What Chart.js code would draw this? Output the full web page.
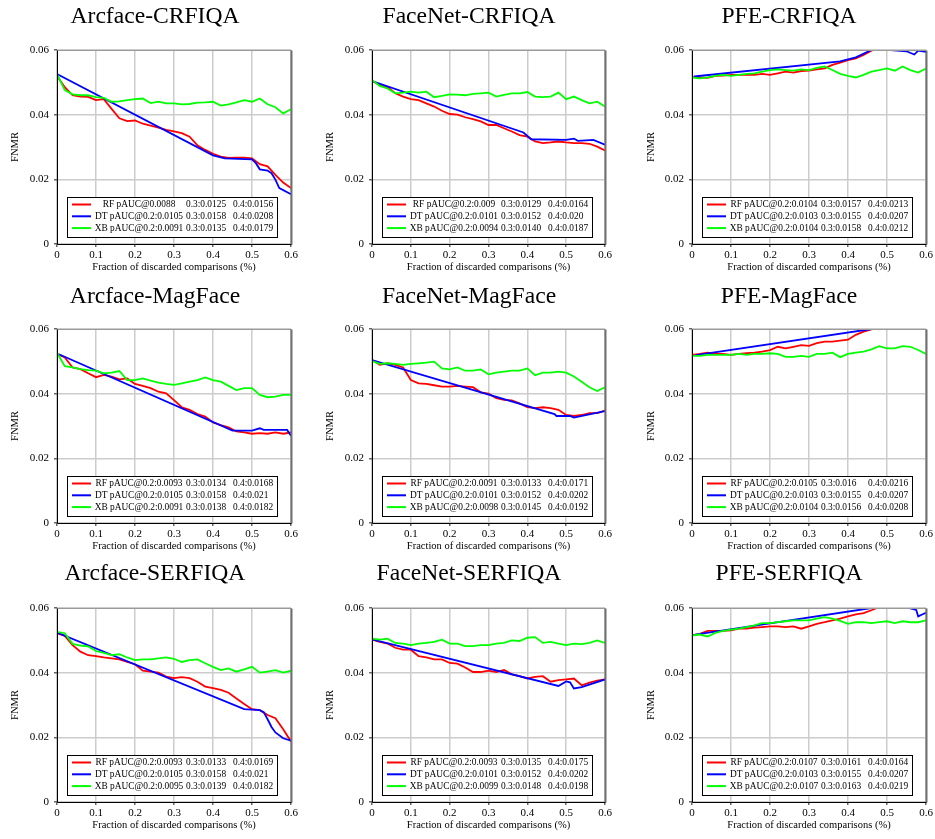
<!DOCTYPE html>
<html>
<head>
<meta charset="utf-8">
<script src="https://cdn.jsdelivr.net/npm/chart.js@4.4.1/dist/chart.umd.min.js"></script>
<style>
  body { margin: 0; background: #fff; width: 935px; height: 839px; position: relative; overflow: hidden; }
  canvas { position: absolute; }
</style>
</head>
<body>
<script>
// sample positions (fraction of discarded comparisons) used for RF / XB curves
const XS = [0, 0.02, 0.04, 0.06, 0.08, 0.1, 0.12, 0.14, 0.16, 0.18, 0.2, 0.22, 0.24, 0.26, 0.28, 0.3,
            0.32, 0.34, 0.36, 0.38, 0.4, 0.42, 0.44, 0.46, 0.48, 0.5, 0.52, 0.54, 0.56, 0.58, 0.6];
const X_TICKS = [0, 0.1, 0.2, 0.3, 0.4, 0.5, 0.6];
const Y_TICKS = [0, 0.02, 0.04, 0.06];
const TITLES = ['Arcface-CRFIQA', 'FaceNet-CRFIQA', 'PFE-CRFIQA',
                'Arcface-MagFace', 'FaceNet-MagFace', 'PFE-MagFace',
                'Arcface-SERFIQA', 'FaceNet-SERFIQA', 'PFE-SERFIQA'];
const SERIES = ['RF', 'DT', 'XB'];

// Arcface-CRFIQA
const p1RF = [0.0520, 0.0485, 0.0460, 0.0456, 0.0455, 0.0445, 0.0448, 0.0418, 0.0389, 0.0380, 0.0382, 0.0372, 0.0366, 0.0360, 0.0353, 0.0348,
              0.0343, 0.0332, 0.0305, 0.0291, 0.0279, 0.0270, 0.0266, 0.0267, 0.0267, 0.0265, 0.0247, 0.0240, 0.0214, 0.0190, 0.0173];
const p1XB = [0.0525, 0.0476, 0.0463, 0.0460, 0.0460, 0.0454, 0.0452, 0.0440, 0.0441, 0.0445, 0.0448, 0.0450, 0.0436, 0.0440, 0.0435, 0.0435,
              0.0432, 0.0433, 0.0437, 0.0438, 0.0440, 0.0428, 0.0432, 0.0438, 0.0445, 0.0440, 0.0450, 0.0432, 0.0423, 0.0404, 0.0417];
const p1DTx = [0, 0.4, 0.43, 0.5, 0.51, 0.52, 0.54, 0.55, 0.56, 0.57, 0.6];
const p1DTy = [0.0526, 0.0274, 0.0265, 0.0262, 0.0250, 0.0231, 0.0227, 0.0219, 0.0199, 0.0173, 0.0154];
const p1LEG = [['RF pAUC@0.0088', '0.3:0.0125', '0.4:0.0156'], ['DT pAUC@0.2:0.0105', '0.3:0.0158', '0.4:0.0208'], ['XB pAUC@0.2:0.0091', '0.3:0.0135', '0.4:0.0179']];

// FaceNet-CRFIQA
const p2RF = [0.0504, 0.0492, 0.0485, 0.0466, 0.0456, 0.0448, 0.0445, 0.0435, 0.0425, 0.0412, 0.0402, 0.0400, 0.0392, 0.0386, 0.0379, 0.0368,
              0.0368, 0.0358, 0.0348, 0.0337, 0.0332, 0.0317, 0.0312, 0.0314, 0.0317, 0.0314, 0.0312, 0.0312, 0.0310, 0.0301, 0.0289];
const p2XB = [0.0507, 0.0489, 0.0481, 0.0466, 0.0468, 0.0471, 0.0468, 0.0471, 0.0454, 0.0458, 0.0463, 0.0462, 0.0460, 0.0464, 0.0466, 0.0468,
              0.0456, 0.0461, 0.0466, 0.0466, 0.0470, 0.0456, 0.0454, 0.0456, 0.0468, 0.0448, 0.0456, 0.0445, 0.0435, 0.0440, 0.0425];
const p2DTx = [0, 0.39, 0.41, 0.5, 0.52, 0.53, 0.57, 0.6];
const p2DTy = [0.0504, 0.0345, 0.0324, 0.0322, 0.0326, 0.0319, 0.0322, 0.0307];
const p2LEG = [['RF pAUC@0.2:0.009', '0.3:0.0129', '0.4:0.0164'], ['DT pAUC@0.2:0.0101', '0.3:0.0152', '0.4:0.020'], ['XB pAUC@0.2:0.0094', '0.3:0.0140', '0.4:0.0187']];

// PFE-CRFIQA
const p3RF = [0.0517, 0.0515, 0.0514, 0.0520, 0.0521, 0.0523, 0.0523, 0.0523, 0.0523, 0.0526, 0.0523, 0.0528, 0.0533, 0.0530, 0.0535, 0.0536,
              0.0540, 0.0543, 0.0554, 0.0561, 0.0569, 0.0574, 0.0585, 0.0598, 0.0606, null, null, null, null, null, null];
const p3XB = [0.0515, 0.0512, 0.0515, 0.0520, 0.0523, 0.0520, 0.0523, 0.0526, 0.0528, 0.0533, 0.0538, 0.0540, 0.0538, 0.0536, 0.0540, 0.0538,
              0.0545, 0.0549, 0.0538, 0.0526, 0.0520, 0.0515, 0.0523, 0.0533, 0.0538, 0.0543, 0.0536, 0.0549, 0.0538, 0.0530, 0.0543];
const p3DTx = [0.005, 0.38, 0.42, 0.46, 0.48, 0.5, 0.51, 0.55, 0.57, 0.58, 0.6];
const p3DTy = [0.0518, 0.0565, 0.0577, 0.0600, 0.0605, 0.0604, 0.0600, 0.0596, 0.0586, 0.0598, 0.0594];
const p3LEG = [['RF pAUC@0.2:0.0104', '0.3:0.0157', '0.4:0.0213'], ['DT pAUC@0.2:0.0103', '0.3:0.0155', '0.4:0.0207'], ['XB pAUC@0.2:0.0104', '0.3:0.0158', '0.4:0.0212']];

// Arcface-MagFace
const p4RF = [0.0523, 0.0512, 0.0481, 0.0476, 0.0463, 0.0451, 0.0458, 0.0453, 0.0444, 0.0447, 0.0430, 0.0424, 0.0417, 0.0406, 0.0401, 0.0380,
              0.0358, 0.0350, 0.0337, 0.0329, 0.0311, 0.0303, 0.0296, 0.0283, 0.0280, 0.0276, 0.0278, 0.0276, 0.0280, 0.0276, 0.0280];
const p4XB = [0.0527, 0.0485, 0.0481, 0.0476, 0.0473, 0.0471, 0.0463, 0.0465, 0.0470, 0.0442, 0.0442, 0.0447, 0.0440, 0.0434, 0.0430, 0.0427,
              0.0432, 0.0437, 0.0442, 0.0450, 0.0442, 0.0437, 0.0424, 0.0411, 0.0417, 0.0417, 0.0396, 0.0389, 0.0391, 0.0396, 0.0396];
const p4DTx = [0.005, 0.45, 0.5, 0.52, 0.53, 0.59, 0.6];
const p4DTy = [0.0522, 0.0286, 0.0286, 0.0293, 0.0288, 0.0288, 0.0270];
const p4LEG = [['RF pAUC@0.2:0.0093', '0.3:0.0134', '0.4:0.0168'], ['DT pAUC@0.2:0.0105', '0.3:0.0158', '0.4:0.021'], ['XB pAUC@0.2:0.0091', '0.3:0.0138', '0.4:0.0182']];

// FaceNet-MagFace
const p5RF = [0.0504, 0.0489, 0.0494, 0.0489, 0.0481, 0.0442, 0.0432, 0.0430, 0.0426, 0.0422, 0.0422, 0.0424, 0.0422, 0.0420, 0.0404, 0.0400,
              0.0386, 0.0381, 0.0379, 0.0370, 0.0358, 0.0355, 0.0358, 0.0355, 0.0350, 0.0334, 0.0331, 0.0334, 0.0340, 0.0340, 0.0348];
const p5XB = [0.0501, 0.0492, 0.0494, 0.0492, 0.0489, 0.0492, 0.0494, 0.0496, 0.0499, 0.0478, 0.0475, 0.0481, 0.0471, 0.0471, 0.0475, 0.0460,
              0.0465, 0.0468, 0.0471, 0.0471, 0.0478, 0.0457, 0.0465, 0.0465, 0.0468, 0.0465, 0.0453, 0.0437, 0.0420, 0.0408, 0.0420];
const p5DTx = [0, 0.47, 0.475, 0.51, 0.52, 0.6];
const p5DTy = [0.0504, 0.0337, 0.0331, 0.0331, 0.0326, 0.0346];
const p5LEG = [['RF pAUC@0.2:0.0091', '0.3:0.0133', '0.4:0.0171'], ['DT pAUC@0.2:0.0101', '0.3:0.0152', '0.4:0.0202'], ['XB pAUC@0.2:0.0098', '0.3:0.0145', '0.4:0.0192']];

// PFE-MagFace
const p6RF = [0.0520, 0.0523, 0.0527, 0.0523, 0.0523, 0.0520, 0.0523, 0.0525, 0.0527, 0.0530, 0.0535, 0.0545, 0.0540, 0.0545, 0.0550, 0.0548,
              0.0556, 0.0561, 0.0561, 0.0564, 0.0567, 0.0582, 0.0592, 0.0599, 0.0606, null, null, null, null, null, null];
const p6XB = [0.0517, 0.0517, 0.0520, 0.0520, 0.0520, 0.0520, 0.0523, 0.0520, 0.0523, 0.0523, 0.0525, 0.0523, 0.0514, 0.0514, 0.0517, 0.0514,
              0.0523, 0.0523, 0.0527, 0.0513, 0.0523, 0.0527, 0.0530, 0.0537, 0.0547, 0.0540, 0.0540, 0.0547, 0.0545, 0.0535, 0.0523];
const p6DTx = [0.01, 0.46, 0.47];
const p6DTy = [0.0519, 0.0600, 0.0602];
const p6LEG = [['RF pAUC@0.2:0.0105', '0.3:0.016', '0.4:0.0216'], ['DT pAUC@0.2:0.0103', '0.3:0.0155', '0.4:0.0207'], ['XB pAUC@0.2:0.0104', '0.3:0.0156', '0.4:0.0208']];

// Arcface-SERFIQA
const p7RF = [0.0522, 0.0514, 0.0485, 0.0465, 0.0454, 0.0451, 0.0447, 0.0444, 0.0441, 0.0433, 0.0426, 0.0406, 0.0403, 0.0400, 0.0388, 0.0383,
              0.0386, 0.0383, 0.0372, 0.0357, 0.0352, 0.0347, 0.0338, 0.0320, 0.0303, 0.0287, 0.0284, 0.0269, 0.0259, 0.0225, 0.0187];
const p7XB = [0.0526, 0.0522, 0.0489, 0.0484, 0.0481, 0.0467, 0.0461, 0.0454, 0.0457, 0.0447, 0.0439, 0.0441, 0.0441, 0.0444, 0.0447, 0.0443,
              0.0433, 0.0439, 0.0441, 0.0429, 0.0418, 0.0408, 0.0413, 0.0403, 0.0410, 0.0418, 0.0400, 0.0403, 0.0408, 0.0400, 0.0406];
const p7DTx = [0, 0.48, 0.52, 0.53, 0.54, 0.55, 0.56, 0.58, 0.6];
const p7DTy = [0.0524, 0.0287, 0.0284, 0.0278, 0.0256, 0.0232, 0.0215, 0.0197, 0.0190];
const p7LEG = [['RF pAUC@0.2:0.0093', '0.3:0.0133', '0.4:0.0169'], ['DT pAUC@0.2:0.0105', '0.3:0.0158', '0.4:0.021'], ['XB pAUC@0.2:0.0095', '0.3:0.0139', '0.4:0.0182']];

// FaceNet-SERFIQA
const p8RF = [0.0502, 0.0495, 0.0490, 0.0477, 0.0471, 0.0471, 0.0451, 0.0447, 0.0441, 0.0441, 0.0430, 0.0428, 0.0416, 0.0402, 0.0402, 0.0406,
              0.0402, 0.0408, 0.0395, 0.0389, 0.0382, 0.0387, 0.0389, 0.0372, 0.0377, 0.0379, 0.0382, 0.0361, 0.0369, 0.0375, 0.0379];
const p8XB = [0.0505, 0.0502, 0.0505, 0.0492, 0.0490, 0.0485, 0.0490, 0.0492, 0.0495, 0.0502, 0.0490, 0.0490, 0.0482, 0.0482, 0.0485, 0.0485,
              0.0490, 0.0492, 0.0500, 0.0498, 0.0508, 0.0510, 0.0492, 0.0495, 0.0490, 0.0485, 0.0490, 0.0488, 0.0492, 0.0500, 0.0492];
const p8DTx = [0, 0.48, 0.5, 0.51, 0.52, 0.54, 0.6];
const p8DTy = [0.0503, 0.0359, 0.0373, 0.0370, 0.0351, 0.0355, 0.0379];
const p8LEG = [['RF pAUC@0.2:0.0093', '0.3:0.0135', '0.4:0.0175'], ['DT pAUC@0.2:0.0101', '0.3:0.0152', '0.4:0.0202'], ['XB pAUC@0.2:0.0099', '0.3:0.0148', '0.4:0.0198']];

// PFE-SERFIQA
const p9RF = [0.0515, 0.0520, 0.0529, 0.0529, 0.0529, 0.0531, 0.0536, 0.0536, 0.0539, 0.0541, 0.0543, 0.0543, 0.0541, 0.0543, 0.0536, 0.0543,
              0.0551, 0.0556, 0.0562, 0.0567, 0.0574, 0.0580, 0.0584, 0.0593, 0.0603, null, null, null, null, null, null];
const p9XB = [0.0515, 0.0518, 0.0512, 0.0523, 0.0529, 0.0533, 0.0536, 0.0541, 0.0546, 0.0553, 0.0553, 0.0556, 0.0559, 0.0562, 0.0562, 0.0562,
              0.0567, 0.0572, 0.0567, 0.0560, 0.0551, 0.0556, 0.0556, 0.0553, 0.0556, 0.0559, 0.0553, 0.0559, 0.0556, 0.0556, 0.0562];
const p9DTx = [0, 0.46, 0.5, 0.55, 0.56, 0.575, 0.58, 0.59, 0.6];
const p9DTy = [0.0516, 0.0600, 0.0608, 0.0603, 0.0599, 0.0594, 0.0574, 0.0580, 0.0585];
const p9LEG = [['RF pAUC@0.2:0.0107', '0.3:0.0161', '0.4:0.0164'], ['DT pAUC@0.2:0.0103', '0.3:0.0155', '0.4:0.0207'], ['XB pAUC@0.2:0.0107', '0.3:0.0163', '0.4:0.0219']];

const PANELS = [
    [p1RF, p1DTx, p1DTy, p1XB, p1LEG], [p2RF, p2DTx, p2DTy, p2XB, p2LEG], [p3RF, p3DTx, p3DTy, p3XB, p3LEG],
    [p4RF, p4DTx, p4DTy, p4XB, p4LEG], [p5RF, p5DTx, p5DTy, p5XB, p5LEG], [p6RF, p6DTx, p6DTy, p6XB, p6LEG],
    [p7RF, p7DTx, p7DTy, p7XB, p7LEG], [p8RF, p8DTx, p8DTy, p8XB, p8LEG], [p9RF, p9DTx, p9DTy, p9XB, p9LEG]
];

const SERIF = "'Liberation Serif', 'Times New Roman', serif";
const COLORS = { RF: '#ff0000', DT: '#0000ff', XB: '#00ff00' };
const GRID = '#cccccc';

// canvas placement per column / row (tx = title centre inside the canvas)
const COLS = [
    { left: 0,   w: 310, yw: 57, pr: 19, tp: 9,  tx: 155 },
    { left: 314, w: 310, yw: 58, pr: 19, tp: 10, tx: 155 },
    { left: 635, w: 300, yw: 57, pr: 9,  tp: 10, tx: 154 }
];
const ROWS = [0, 279, 558];
const TITLE_Y = [17, 18, 16];
const H = 280;

// panel title, box around the plot and the legend inside it
const framePlugin = {
    id: 'frame',
    afterDraw(chart) {
        const { ctx, chartArea: a } = chart;
        const opt = chart.options.plugins.frame;
        const leg = opt.rows;
        ctx.save();
        ctx.fillStyle = '#000';
        ctx.font = '23.6px ' + SERIF;
        ctx.textAlign = 'center';
        ctx.textBaseline = 'middle';
        ctx.fillText(opt.title, opt.tx, opt.ty);

        const L = a.left + 0.5, R = a.right + 0.5, T = a.top + 0.5, B = a.bottom + 0.5;
        // top edge grey, right edge darker and thicker, left / bottom black
        ctx.lineWidth = 1;
        ctx.strokeStyle = '#9a9a9a';
        ctx.beginPath(); ctx.moveTo(L, T); ctx.lineTo(R, T); ctx.stroke();
        ctx.lineWidth = 2;
        ctx.strokeStyle = '#707070';
        ctx.beginPath(); ctx.moveTo(R, T); ctx.lineTo(R, B); ctx.stroke();
        ctx.lineWidth = 1;
        ctx.strokeStyle = '#000';
        ctx.beginPath(); ctx.moveTo(L, T); ctx.lineTo(L, B); ctx.lineTo(R, B); ctx.stroke();

        const bw = 210, bh = 40;
        const bx = Math.round(a.left + 10), by = Math.round(a.bottom - 7 - bh);
        ctx.fillStyle = '#fff';
        ctx.fillRect(bx, by, bw, bh);
        ctx.strokeRect(bx + 0.5, by + 0.5, bw, bh);
        ctx.font = '9.4px ' + SERIF;
        leg.forEach((row, k) => {
            const y = by + 7.5 + k * 11.8;
            ctx.strokeStyle = COLORS[SERIES[k]];
            ctx.lineWidth = 2;
            ctx.beginPath();
            ctx.moveTo(bx + 5, y);
            ctx.lineTo(bx + 24, y);
            ctx.stroke();
            ctx.fillStyle = '#000';
            ctx.textAlign = 'center';
            ctx.fillText(row[0], bx + 72, y);
            ctx.textAlign = 'left';
            ctx.fillText(row[1], bx + 119, y);
            ctx.fillText(row[2], bx + 166, y);
        });
        ctx.restore();
    }
};

function zip(xs, ys) {
    return xs.map((x, i) => ({ x: x, y: ys[i] }));
}

PANELS.forEach((p, i) => {
    const col = COLS[i % 3];
    const r = Math.floor(i / 3);
    const cv = document.createElement('canvas');
    cv.width = col.w;
    cv.height = H;
    cv.style.left = col.left + 'px';
    cv.style.top = ROWS[r] + 'px';
    cv.style.width = col.w + 'px';
    cv.style.height = H + 'px';
    document.body.appendChild(cv);

    const [rf, dtx, dty, xb, leg] = p;
    const line = (label, data, order) => ({
        label: label, data: data, borderColor: COLORS[label], borderWidth: 1.8,
        pointRadius: 0, fill: false, tension: 0, clip: 0, order: order, spanGaps: false
    });

    new Chart(cv, {
        type: 'line',
        data: {
            datasets: [
                line('RF', zip(XS, rf), 3),
                line('DT', zip(dtx, dty), 2),
                line('XB', zip(XS, xb), 1)
            ]
        },
        options: {
            responsive: false,
            animation: false,
            devicePixelRatio: 1,
            events: [],
            layout: { autoPadding: false, padding: { top: 50, right: col.pr, bottom: 0, left: 0 } },
            plugins: {
                legend: { display: false },
                tooltip: { enabled: false },
                title: { display: false },
                frame: { rows: leg, title: TITLES[i], tx: col.tx, ty: TITLE_Y[r] }
            },
            scales: {
                x: {
                    type: 'linear', min: 0, max: 0.6,
                    afterFit: s => { s.height = 36; },
                    afterBuildTicks: s => { s.ticks = X_TICKS.map(v => ({ value: v })); },
                    ticks: { color: '#000', padding: 2, maxRotation: 0, font: { family: SERIF, size: 11 }, callback: v => String(v) },
                    grid: { color: GRID, lineWidth: 1.5, tickLength: 3, tickColor: '#666' },
                    border: { display: false },
                    title: {
                        display: true, text: 'Fraction of discarded comparisons (%)', color: '#000',
                        font: { family: SERIF, size: 10.5 }, padding: { top: 0, bottom: 6 }
                    }
                },
                y: {
                    min: 0, max: 0.06,
                    afterFit: s => { s.width = col.yw; },
                    afterBuildTicks: s => { s.ticks = Y_TICKS.map(v => ({ value: v })); },
                    ticks: { color: '#000', padding: 5, font: { family: SERIF, size: 11 }, callback: v => String(v) },
                    grid: { color: GRID, lineWidth: 1.5, tickLength: 3, tickColor: '#666' },
                    border: { display: false },
                    title: {
                        display: true, text: 'FNMR', color: '#000',
                        font: { family: SERIF, size: 10.5 }, padding: { top: col.tp, bottom: 0 }
                    }
                }
            }
        },
        plugins: [framePlugin]
    });
});
</script>
</body>
</html>
